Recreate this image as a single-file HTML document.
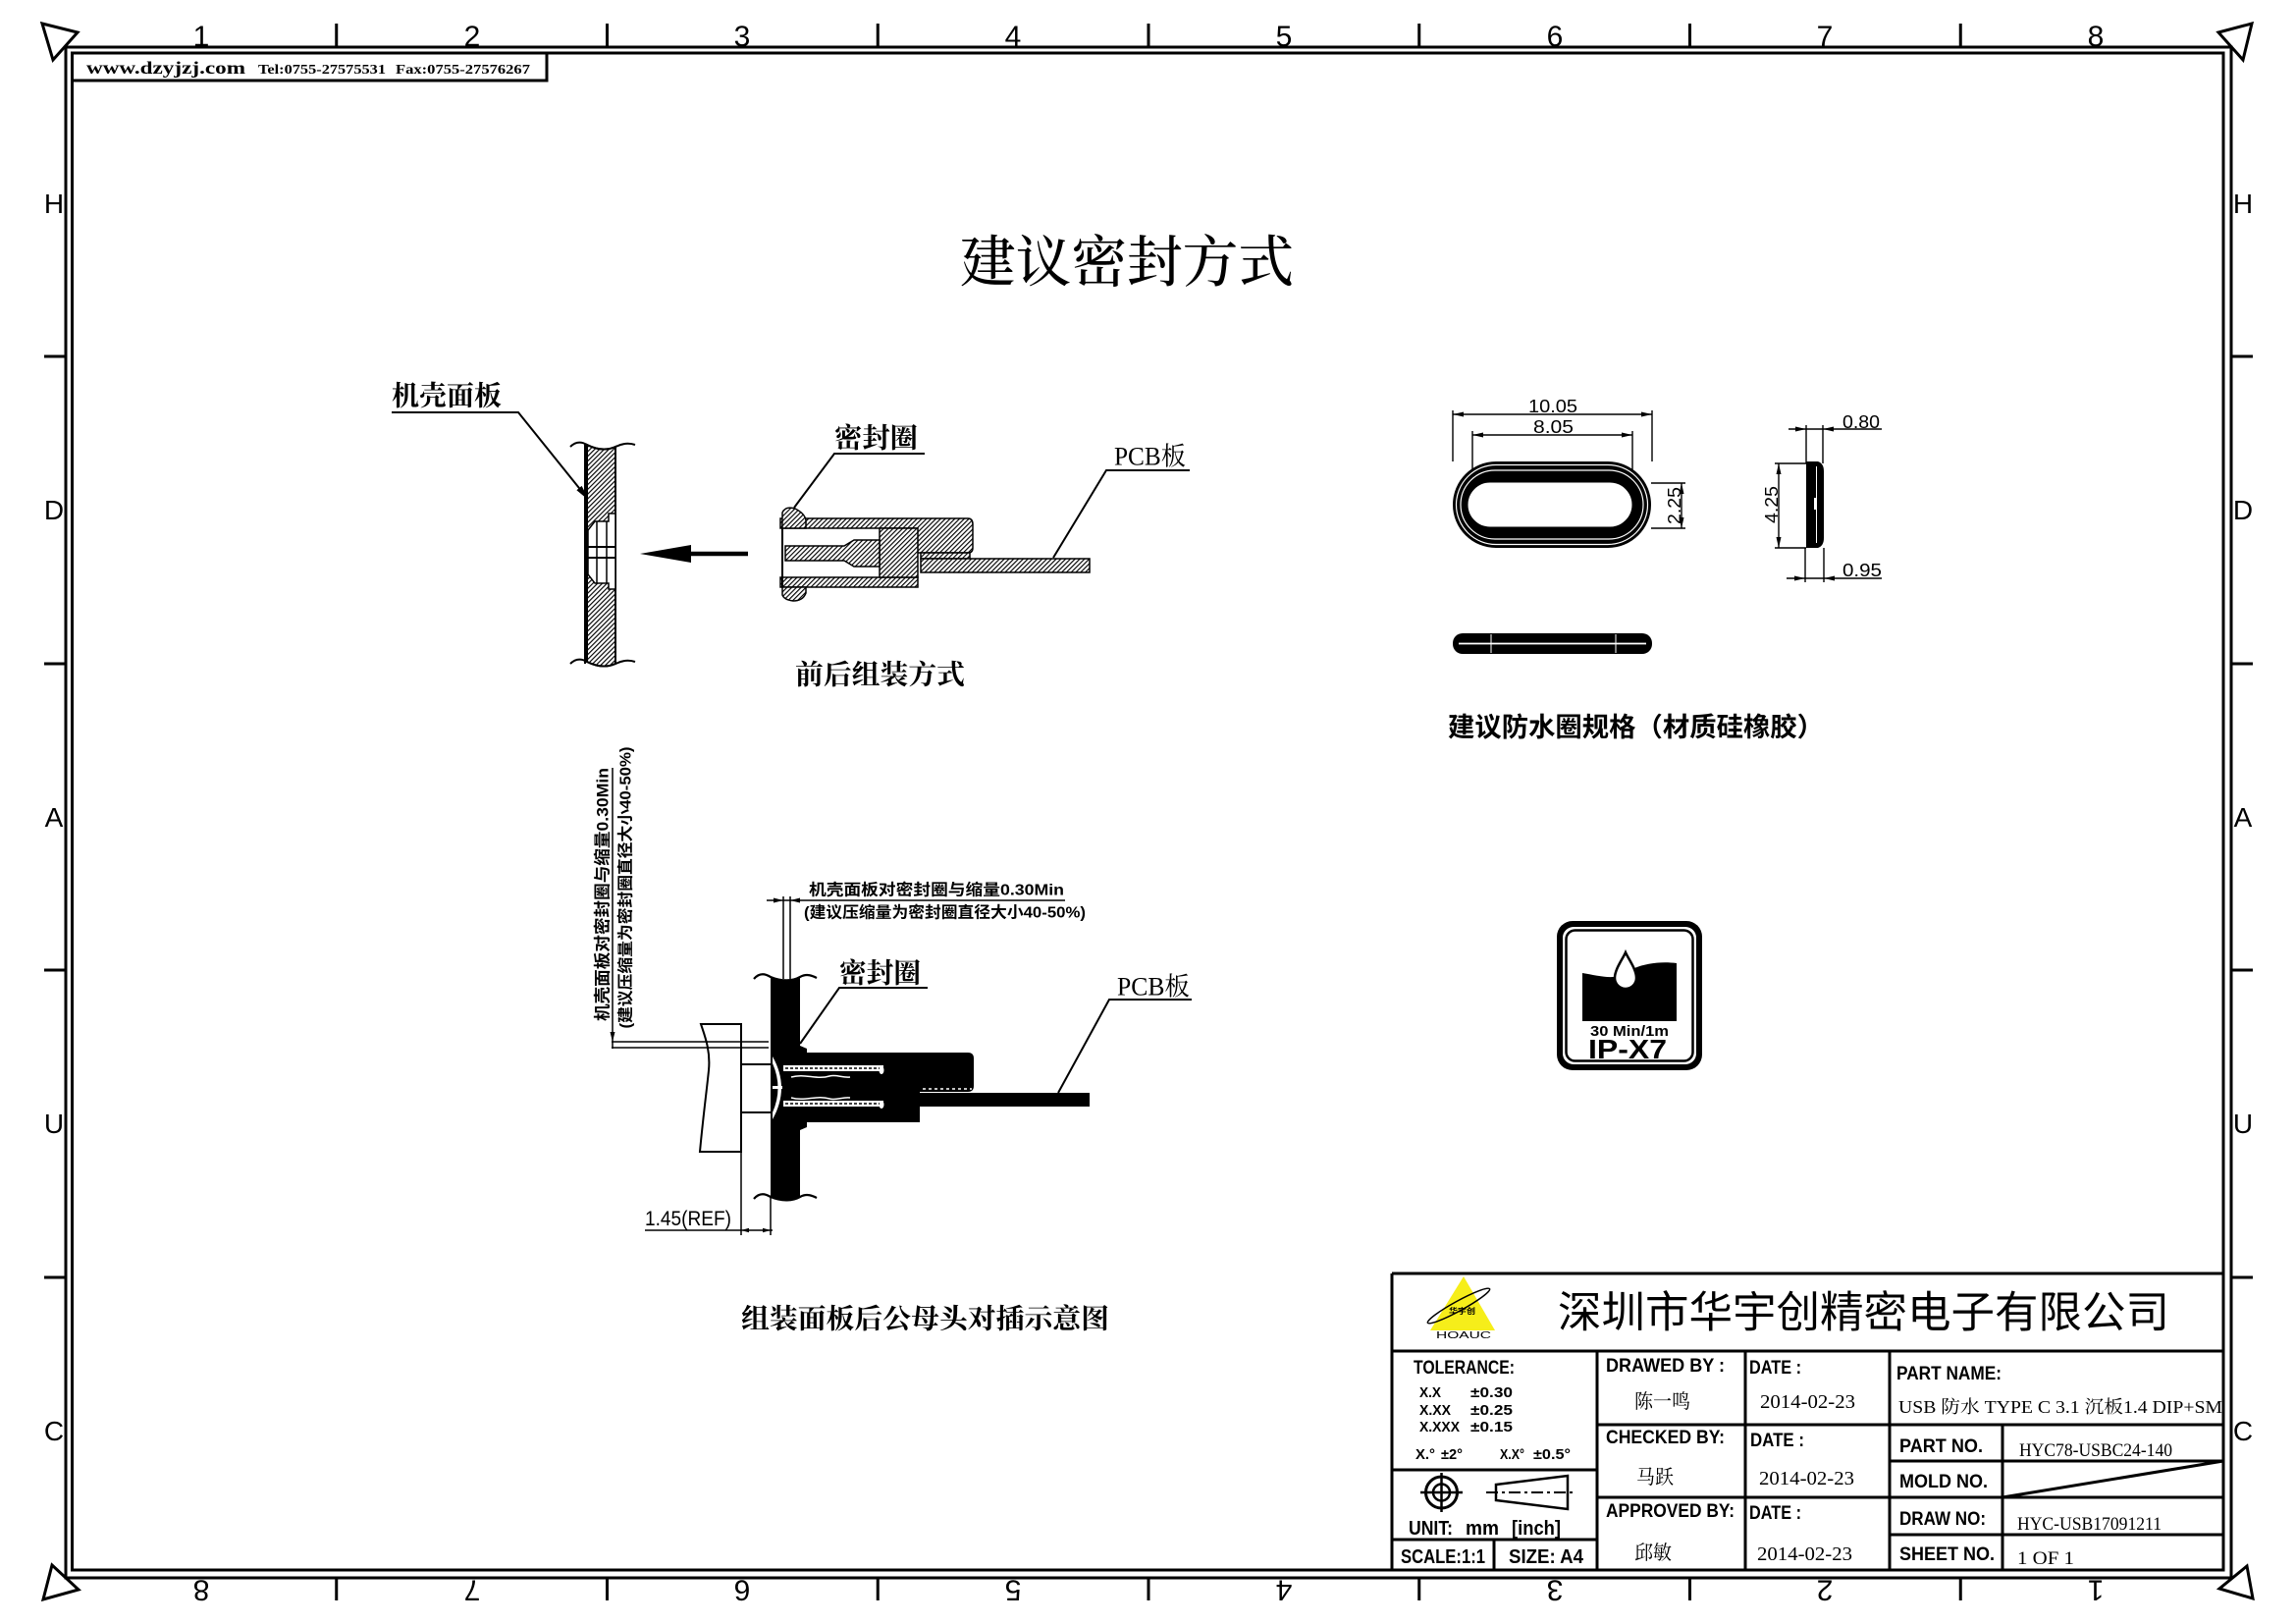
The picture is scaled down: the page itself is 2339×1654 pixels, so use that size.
<!DOCTYPE html>
<html><head><meta charset="utf-8">
<style>
html,body{margin:0;padding:0;background:#fff;overflow:hidden;}
svg{display:block;}
.s{font-family:"Liberation Sans",sans-serif;}
.sb{font-family:"Liberation Sans",sans-serif;font-weight:bold;}
.sf{font-family:"Liberation Serif",serif;}
.sfb{font-family:"Liberation Serif",serif;font-weight:bold;}
.cs{font-family:"Liberation Serif","Noto Serif CJK SC",serif;}
.csb{font-family:"Liberation Serif","Noto Serif CJK SC",serif;font-weight:bold;}
.ch{font-family:"Liberation Sans","Noto Sans CJK SC",sans-serif;}
.chb{font-family:"Liberation Sans","Noto Sans CJK SC",sans-serif;font-weight:bold;}
</style></head><body>
<svg width="2339" height="1654" viewBox="0 0 2339 1654" xmlns="http://www.w3.org/2000/svg">
<defs>
<pattern id="h" width="3.4" height="3.4" patternUnits="userSpaceOnUse" patternTransform="rotate(45)">
<rect width="3.4" height="3.4" fill="#fff"/><line x1="0" y1="0" x2="0" y2="3.4" stroke="#000" stroke-width="2.3"/></pattern>
<clipPath id="tbclip"><rect x="1926" y="1378" width="338" height="72"/></clipPath>
</defs>
<rect width="2339" height="1654" fill="#fff"/>

<!-- Frame -->
<g fill="none" stroke="#000">
<rect x="67" y="48" width="2206" height="1559" stroke-width="3"/>
<rect x="73.5" y="54" width="2191.5" height="1545" stroke-width="3"/>
<g stroke-width="3" stroke-linejoin="miter">
<polygon points="43,24 79,33 54,61"/>
<polygon points="2260,33 2294,24 2285,61"/>
<polygon points="53,1594 80,1619 44,1629"/>
<polygon points="2289,1595 2261,1618 2295,1628"/>
</g>
<g stroke-width="3">
<path d="M342.75,24V48M618.5,24V48M894.25,24V48M1170,24V48M1445.75,24V48M1721.5,24V48M1997.25,24V48"/>
<path d="M342.75,1607V1630M618.5,1607V1630M894.25,1607V1630M1170,1607V1630M1445.75,1607V1630M1721.5,1607V1630M1997.25,1607V1630"/>
<path d="M45,363H67M45,676H67M45,988H67M45,1301H67"/>
<path d="M2273,363H2295M2273,676H2295M2273,988H2295M2273,1301H2295"/>
</g>
</g>
<g class="s" font-size="30" text-anchor="middle" fill="#000">
<text x="205" y="47">1</text><text x="481" y="47">2</text><text x="756" y="47">3</text><text x="1032" y="47">4</text>
<text x="1308" y="47">5</text><text x="1584" y="47">6</text><text x="1859" y="47">7</text><text x="2135" y="47">8</text>
<text transform="translate(205,1620) rotate(180)" y="10.7">8</text>
<text transform="translate(481,1620) rotate(180)" y="10.7">7</text>
<text transform="translate(756,1620) rotate(180)" y="10.7">6</text>
<text transform="translate(1032,1620) rotate(180)" y="10.7">5</text>
<text transform="translate(1308,1620) rotate(180)" y="10.7">4</text>
<text transform="translate(1584,1620) rotate(180)" y="10.7">3</text>
<text transform="translate(1859,1620) rotate(180)" y="10.7">2</text>
<text transform="translate(2135,1620) rotate(180)" y="10.7">1</text>
</g>
<g class="s" font-size="28" text-anchor="middle" fill="#000">
<text x="55" y="217">H</text><text x="55" y="529">D</text><text x="55" y="842">A</text><text x="55" y="1154">U</text><text x="55" y="1467">C</text>
<text x="2285" y="217">H</text><text x="2285" y="529">D</text><text x="2285" y="842">A</text><text x="2285" y="1154">U</text><text x="2285" y="1467">C</text>
</g>

<!-- website box -->
<path d="M557,54V82H73" fill="none" stroke="#000" stroke-width="3"/>
<text class="sfb" x="88" y="75" font-size="18" textLength="162" lengthAdjust="spacingAndGlyphs">www.dzyjzj.com</text>
<text class="sfb" x="263" y="75" font-size="14" textLength="130" lengthAdjust="spacingAndGlyphs">Tel:0755-27575531</text>
<text class="sfb" x="403" y="75" font-size="14" textLength="137" lengthAdjust="spacingAndGlyphs">Fax:0755-27576267</text>

<!-- Title -->
<text class="cs" x="978" y="268" dominant-baseline="central" font-size="57" font-weight="500" textLength="340" lengthAdjust="spacingAndGlyphs">建议密封方式</text>

<!-- ===== Top-left drawing ===== -->
<text class="csb" x="399" y="404" dominant-baseline="central" font-size="28" textLength="112" lengthAdjust="spacingAndGlyphs">机壳面板</text>
<g fill="none" stroke="#000" stroke-width="2">
<path d="M399,420H528L598,507"/>
</g>
<polygon points="598,507 588.6,499.3 592.4,496.1" fill="#000" stroke="#000" stroke-width="1.5"/>
<!-- panel -->
<path d="M598,453 C608,458 618,459 627,455 L627,676 C618,680 608,679 598,674 Z" fill="url(#h)" stroke="#000" stroke-width="2"/>
<polygon points="620,523 627,523 627,600 620,600 620,594 606,594 599,585 599,540 606,531 620,531" fill="#fff" stroke="#000" stroke-width="1.5"/>
<g stroke="#000" fill="none">
<path d="M608,531V594M618,531V594" stroke-width="1.5"/>
<path d="M599,557H627M599,568H627" stroke-width="2"/>
<path d="M596,452V676" stroke-width="2"/>
<path d="M581,455 C587,449 593,450 598,453 C608,458 618,459 627,455 C635,451 641,451 647,453" stroke-width="2"/>
<path d="M581,676 C587,670 593,671 598,674 C608,679 618,680 627,676 C635,672 641,672 647,674" stroke-width="2"/>
</g>
<!-- arrow -->
<line x1="700" y1="564" x2="762" y2="564" stroke="#000" stroke-width="4.5"/>
<polygon points="652,564 704,555 704,573" fill="#000"/>
<!-- connector -->
<g stroke="#000" stroke-width="1.5">
<path d="M795,528 L986,528 Q991,528 991,534 L991,558 Q991,563 986,563 L933,563 L933,538 L795,538 Z" fill="url(#h)"/>
<rect x="795" y="588" width="140" height="10" fill="url(#h)"/>
<rect x="896" y="538" width="39" height="50" fill="url(#h)"/>
<polygon points="800,556 860,556 870,550 896,550 896,577 870,577 860,571 800,571" fill="url(#h)"/>
<path d="M797,538 L797,522 Q800,515 810,518 Q820,523 821,530 L821,538 Z" fill="url(#h)"/>
<path d="M797,598 L821,598 L821,604 Q818,612 808,612 Q799,611 797,606 Z" fill="url(#h)"/>
<rect x="938" y="563" width="50" height="6" fill="url(#h)"/>
<rect x="938" y="569" width="172" height="14" fill="url(#h)"/>
</g>
<line x1="797" y1="538" x2="797" y2="598" stroke="#000" stroke-width="2"/>
<text class="csb" x="850" y="447" dominant-baseline="central" font-size="28" textLength="85" lengthAdjust="spacingAndGlyphs">密封圈</text>
<path d="M942,462H850L809,517" fill="none" stroke="#000" stroke-width="2"/>
<text class="cs" x="1135" y="465" dominant-baseline="central" font-size="26" textLength="73" lengthAdjust="spacingAndGlyphs">PCB板</text>
<path d="M1212,479H1127L1073,568" fill="none" stroke="#000" stroke-width="2"/>
<text class="csb" x="810" y="688" dominant-baseline="central" font-size="28" textLength="173" lengthAdjust="spacingAndGlyphs">前后组装方式</text>

<!-- ===== Top-right seal ring ===== -->
<g stroke="#000" stroke-width="1.4" fill="none">
<path d="M1480,418V470M1683,418V470M1500,439V490M1663,439V490"/>
<path d="M1480,422H1683M1500,443H1663"/>
<path d="M1682,492H1717M1682,538H1717M1713,492V538"/>
<path d="M1808,472H1840M1808,558H1840M1812,472V558"/>
<path d="M1840,433V472M1857,433V472M1822,437H1917"/>
<path d="M1839,558V593M1858,558V593M1820,589H1917"/>
</g>
<g fill="#000">
<polygon points="1480,422 1491,419.5 1491,424.5"/><polygon points="1683,422 1672,419.5 1672,424.5"/>
<polygon points="1500,443 1511,440.5 1511,445.5"/><polygon points="1663,443 1652,440.5 1652,445.5"/>
<polygon points="1713,492 1710.5,503 1715.5,503"/><polygon points="1713,538 1710.5,527 1715.5,527"/>
<polygon points="1812,472 1809.5,483 1814.5,483"/><polygon points="1812,558 1809.5,547 1814.5,547"/>
<polygon points="1840,437 1829,434.5 1829,439.5"/><polygon points="1857,437 1868,434.5 1868,439.5"/>
<polygon points="1839,589 1828,586.5 1828,591.5"/><polygon points="1858,589 1869,586.5 1869,591.5"/>
</g>
<g class="s" font-size="18" fill="#000">
<text x="1557" y="420" textLength="50" lengthAdjust="spacingAndGlyphs">10.05</text>
<text x="1562" y="441" textLength="41" lengthAdjust="spacingAndGlyphs">8.05</text>
<text transform="translate(1712,515) rotate(-90)" x="-19" textLength="38" lengthAdjust="spacingAndGlyphs">2.25</text>
<text transform="translate(1811,514) rotate(-90)" x="-19" textLength="38" lengthAdjust="spacingAndGlyphs">4.25</text>
<text x="1877" y="436" textLength="38" lengthAdjust="spacingAndGlyphs">0.80</text>
<text x="1877" y="587" textLength="40" lengthAdjust="spacingAndGlyphs">0.95</text>
</g>
<rect x="1480" y="470" width="202" height="88" rx="44" fill="#000"/>
<rect x="1483.5" y="473.5" width="195" height="81" rx="40.5" fill="none" stroke="#fff" stroke-width="1.2"/>
<rect x="1488" y="479" width="186" height="70" rx="35" fill="none" stroke="#fff" stroke-width="1.2"/>
<rect x="1494" y="490" width="170" height="48" rx="24" fill="#fff" stroke="#000" stroke-width="3"/>
<path d="M1840,470 H1852 Q1858,472 1858,480 V548 Q1858,556 1852,558 H1840 Z" fill="#000"/>
<line x1="1850.5" y1="475" x2="1850.5" y2="553" stroke="#fff" stroke-width="1"/>
<rect x="1848" y="507" width="2" height="12" fill="#fff"/>
<rect x="1480" y="645" width="203" height="21" rx="10" fill="#000"/>
<line x1="1486" y1="655.5" x2="1677" y2="655.5" stroke="#fff" stroke-width="1.8"/>
<path d="M1519,646V665M1646,646V665" stroke="#fff" stroke-width="1"/>
<text class="chb" x="1475" y="741" dominant-baseline="central" font-size="27" textLength="383" lengthAdjust="spacingAndGlyphs">建议防水圈规格（材质硅橡胶）</text>

<!-- ===== IP-X7 ===== -->
<rect x="1586" y="938" width="148" height="152" rx="16" fill="#000"/>
<rect x="1592" y="944" width="136" height="140" rx="11" fill="#fff"/>
<rect x="1595.5" y="947.5" width="129" height="133" rx="9" fill="none" stroke="#000" stroke-width="2.5"/>
<path d="M1612,1040 L1612,991 C1625,993 1638,997 1650,994 L1665,986 C1677,981 1693,979 1708,981 L1708,1040 Z" fill="#000"/>
<path d="M1656,970 C1659,977 1667,987 1667,996 A11,11 0 0 1 1645,996 C1645,987 1653,977 1656,970 Z" fill="#fff" stroke="#000" stroke-width="2.5"/>
<text class="sb" x="1620" y="1055" font-size="15" textLength="80" lengthAdjust="spacingAndGlyphs">30 Min/1m</text>
<text class="sb" x="1618" y="1078" font-size="28" textLength="80" lengthAdjust="spacingAndGlyphs">IP-X7</text>

<!-- ===== Bottom drawing ===== -->
<text class="chb" transform="translate(614,911) rotate(-90)" text-anchor="middle" dominant-baseline="central" font-size="17" textLength="258" lengthAdjust="spacingAndGlyphs">机壳面板对密封圈与缩量0.30Min</text>
<text class="chb" transform="translate(638,904) rotate(-90)" text-anchor="middle" dominant-baseline="central" font-size="16" textLength="287" lengthAdjust="spacingAndGlyphs">(建议压缩量为密封圈直径大小40-50%)</text>
<text class="chb" x="824" y="907" dominant-baseline="central" font-size="16" textLength="260" lengthAdjust="spacingAndGlyphs">机壳面板对密封圈与缩量0.30Min</text>
<text class="chb" x="819" y="930" dominant-baseline="central" font-size="16" textLength="287" lengthAdjust="spacingAndGlyphs">(建议压缩量为密封圈直径大小40-50%)</text>
<g stroke="#000" fill="none">
<path d="M624,782V1068" stroke-width="1.5"/>
<path d="M623,1061H783M623,1067H783" stroke-width="1.6"/>
<path d="M781,917H1085" stroke-width="1.5"/>
<path d="M798,913V997M805,913V997" stroke-width="1.5"/>
<path d="M714,1043 L755,1043 L755,1173 L713,1173 C716,1140 720,1110 722,1090 C724,1070 718,1055 714,1043 Z" stroke-width="2"/>
<path d="M755,1084H787M755,1133H787" stroke-width="2"/>
<path d="M755,1173V1258M785,1220V1258M657,1253H787" stroke-width="1.5"/>
<path d="M768,997 C774,990 780,992 785,995 C797,1000 808,999 815,995 C822,991 828,994 832,996" stroke-width="2.2"/>
<path d="M768,1221 C774,1214 780,1216 785,1219 C797,1224 808,1223 815,1219 C822,1215 828,1218 832,1220" stroke-width="2.2"/>
</g>
<g fill="#000">
<polygon points="624,1061 621.5,1051 626.5,1051"/>
<polygon points="798,917 788,914.5 788,919.5"/><polygon points="805,917 815,914.5 815,919.5"/>
<polygon points="785,1253 777,1250.8 777,1255.2"/><polygon points="755,1253 763,1250.8 763,1255.2"/>
<path d="M785,995 C797,1000 808,999 815,995 L815,1219 C808,1223 797,1224 785,1219 Z"/>
<rect x="815" y="1072" width="122" height="71"/>
<path d="M937,1072 L986,1072 Q992,1072 992,1078 L992,1106 Q992,1112 986,1112 L937,1112 Z"/>
<rect x="937" y="1113" width="173" height="14"/>
<polygon points="815,1065 822,1068 822,1074 815,1074"/>
<polygon points="815,1142 822,1142 822,1148 815,1151"/>
</g>
<g fill="#fff" stroke="none">
<path d="M787,1076 Q805,1108 787,1140 L787,1133 Q798,1108 787,1083 Z"/>
<rect x="798" y="1085" width="102" height="6"/>
<rect x="798" y="1121" width="102" height="6"/>
<ellipse cx="898" cy="1090" rx="2.5" ry="4"/>
<ellipse cx="898" cy="1125" rx="2.5" ry="4"/>
<rect x="787" y="1106" width="10" height="3"/>
</g>
<g fill="none">
<path d="M800,1088H896M800,1124H896" stroke="#000" stroke-width="1.5" stroke-dasharray="3 2"/>
<path d="M806,1097 C820,1093 832,1100 845,1096 C852,1094 858,1098 866,1097" stroke="#fff" stroke-width="1.5"/>
<path d="M806,1118 C820,1122 832,1115 845,1119 C852,1121 858,1117 866,1118" stroke="#fff" stroke-width="1.5"/>
<path d="M940,1109H990" stroke="#fff" stroke-width="1.5" stroke-dasharray="3 3"/>
</g>
<text class="csb" x="855" y="992" dominant-baseline="central" font-size="28" textLength="83" lengthAdjust="spacingAndGlyphs">密封圈</text>
<path d="M945,1006H855L815,1063" fill="none" stroke="#000" stroke-width="2"/>
<text class="cs" x="1138" y="1005" dominant-baseline="central" font-size="26" textLength="74" lengthAdjust="spacingAndGlyphs">PCB板</text>
<path d="M1214,1018H1130L1078,1113" fill="none" stroke="#000" stroke-width="2"/>
<text class="s" x="657" y="1248" font-size="21" textLength="88" lengthAdjust="spacingAndGlyphs">1.45(REF)</text>
<text class="csb" x="755" y="1344" dominant-baseline="central" font-size="28" textLength="375" lengthAdjust="spacingAndGlyphs">组装面板后公母头对插示意图</text>

<!-- ===== Title block ===== -->
<g stroke="#000" stroke-width="3" fill="none">
<path d="M1418,1297H2265M1418,1297V1599M1418,1376H2265"/>
<path d="M1627,1376V1599M1418,1497H1627M1418,1568H1627M1522,1568V1599"/>
<path d="M1778,1376V1599M1925,1376V1599"/>
<path d="M1627,1451H2265M1627,1525H1925"/>
<path d="M2040,1451V1599M1925,1488H2265M1925,1525H2265M1925,1563H2265"/>
<path d="M2040,1525L2265,1488"/>
</g>
<!-- logo -->
<polygon points="1491,1300 1457,1355 1523,1355" fill="#f6ee1a"/>
<ellipse cx="1486" cy="1330" rx="36" ry="5" transform="rotate(-28.7 1486 1330)" fill="none" stroke="#000" stroke-width="1.5"/>
<text class="chb" x="1476" y="1338" font-size="8" textLength="27" lengthAdjust="spacingAndGlyphs">华宇创</text>
<text class="s" x="1463" y="1363" font-size="10" textLength="56" lengthAdjust="spacingAndGlyphs">HOAUC</text>
<text class="ch" x="1587" y="1337" dominant-baseline="central" font-size="44" textLength="623" lengthAdjust="spacingAndGlyphs">深圳市华宇创精密电子有限公司</text>

<g class="sb" fill="#000">
<text x="1440" y="1399" font-size="19" textLength="103" lengthAdjust="spacingAndGlyphs">TOLERANCE:</text>
<text x="1446" y="1423" font-size="15" textLength="22" lengthAdjust="spacingAndGlyphs">X.X</text>
<text x="1498" y="1423" font-size="15" textLength="43" lengthAdjust="spacingAndGlyphs">±0.30</text>
<text x="1446" y="1441" font-size="15" textLength="32" lengthAdjust="spacingAndGlyphs">X.XX</text>
<text x="1498" y="1441" font-size="15" textLength="43" lengthAdjust="spacingAndGlyphs">±0.25</text>
<text x="1446" y="1458" font-size="15" textLength="41" lengthAdjust="spacingAndGlyphs">X.XXX</text>
<text x="1498" y="1458" font-size="15" textLength="43" lengthAdjust="spacingAndGlyphs">±0.15</text>
<text x="1442" y="1486" font-size="15" textLength="20" lengthAdjust="spacingAndGlyphs">X.°</text>
<text x="1468" y="1486" font-size="15" textLength="22" lengthAdjust="spacingAndGlyphs">±2°</text>
<text x="1528" y="1486" font-size="15" textLength="25" lengthAdjust="spacingAndGlyphs">X.X°</text>
<text x="1562" y="1486" font-size="15" textLength="38" lengthAdjust="spacingAndGlyphs">±0.5°</text>
<text x="1435" y="1563" font-size="20" textLength="45" lengthAdjust="spacingAndGlyphs">UNIT:</text>
<text x="1493" y="1563" font-size="20" textLength="34" lengthAdjust="spacingAndGlyphs">mm</text>
<text x="1540" y="1563" font-size="20" textLength="50" lengthAdjust="spacingAndGlyphs">[inch]</text>
<text x="1427" y="1592" font-size="20" textLength="86" lengthAdjust="spacingAndGlyphs">SCALE:1:1</text>
<text x="1537" y="1592" font-size="20" textLength="76" lengthAdjust="spacingAndGlyphs">SIZE:  A4</text>
<text x="1636" y="1397" font-size="19" textLength="121" lengthAdjust="spacingAndGlyphs">DRAWED BY :</text>
<text x="1782" y="1399" font-size="19" textLength="53" lengthAdjust="spacingAndGlyphs">DATE :</text>
<text x="1636" y="1470" font-size="19" textLength="121" lengthAdjust="spacingAndGlyphs">CHECKED BY:</text>
<text x="1783" y="1473" font-size="19" textLength="55" lengthAdjust="spacingAndGlyphs">DATE :</text>
<text x="1636" y="1545" font-size="19" textLength="131" lengthAdjust="spacingAndGlyphs">APPROVED BY:</text>
<text x="1782" y="1547" font-size="19" textLength="53" lengthAdjust="spacingAndGlyphs">DATE :</text>
<text x="1932" y="1405" font-size="19" textLength="107" lengthAdjust="spacingAndGlyphs">PART NAME:</text>
<text x="1935" y="1479" font-size="19" textLength="85" lengthAdjust="spacingAndGlyphs">PART NO.</text>
<text x="1935" y="1515" font-size="19" textLength="90" lengthAdjust="spacingAndGlyphs">MOLD NO.</text>
<text x="1935" y="1553" font-size="19" textLength="88" lengthAdjust="spacingAndGlyphs">DRAW NO:</text>
<text x="1935" y="1589" font-size="19" textLength="97" lengthAdjust="spacingAndGlyphs">SHEET NO.</text>
</g>
<!-- symbols -->
<g stroke="#000" fill="none">
<circle cx="1468.5" cy="1520" r="16" stroke-width="3"/>
<circle cx="1468.5" cy="1520" r="8.5" stroke-width="2.5"/>
<path d="M1468.5,1500V1540M1447,1520H1490" stroke-width="2.5"/>
<path d="M1524,1512L1597,1503V1537L1524,1528Z" stroke-width="2.5"/>
<path d="M1514,1520H1603" stroke-width="2" stroke-dasharray="12 4 3 4"/>
</g>
<g class="cs" font-size="20" fill="#000">
<text x="1665" y="1428" dominant-baseline="central" textLength="57" lengthAdjust="spacingAndGlyphs">陈一鸣</text>
<text x="1667" y="1505" dominant-baseline="central" textLength="38" lengthAdjust="spacingAndGlyphs">马跃</text>
<text x="1665" y="1582" dominant-baseline="central" textLength="38" lengthAdjust="spacingAndGlyphs">邱敏</text>
</g>
<g class="sf" font-size="20" fill="#000">
<text x="1793" y="1434" textLength="97" lengthAdjust="spacingAndGlyphs">2014-02-23</text>
<text x="1792" y="1512" textLength="97" lengthAdjust="spacingAndGlyphs">2014-02-23</text>
<text x="1790" y="1589" textLength="97" lengthAdjust="spacingAndGlyphs">2014-02-23</text>
<text x="2057" y="1483" font-size="19" textLength="156" lengthAdjust="spacingAndGlyphs">HYC78-USBC24-140</text>
<text x="2055" y="1558" font-size="19" textLength="147" lengthAdjust="spacingAndGlyphs">HYC-USB17091211</text>
<text x="2055" y="1593" font-size="19" textLength="58" lengthAdjust="spacingAndGlyphs">1 OF 1</text>
</g>
<g clip-path="url(#tbclip)">
<text class="cs" x="1934" y="1439" font-size="18" textLength="342" lengthAdjust="spacingAndGlyphs">USB 防水 TYPE C 3.1 沉板1.4 DIP+SMT</text>
</g>
</svg>
</body></html>
